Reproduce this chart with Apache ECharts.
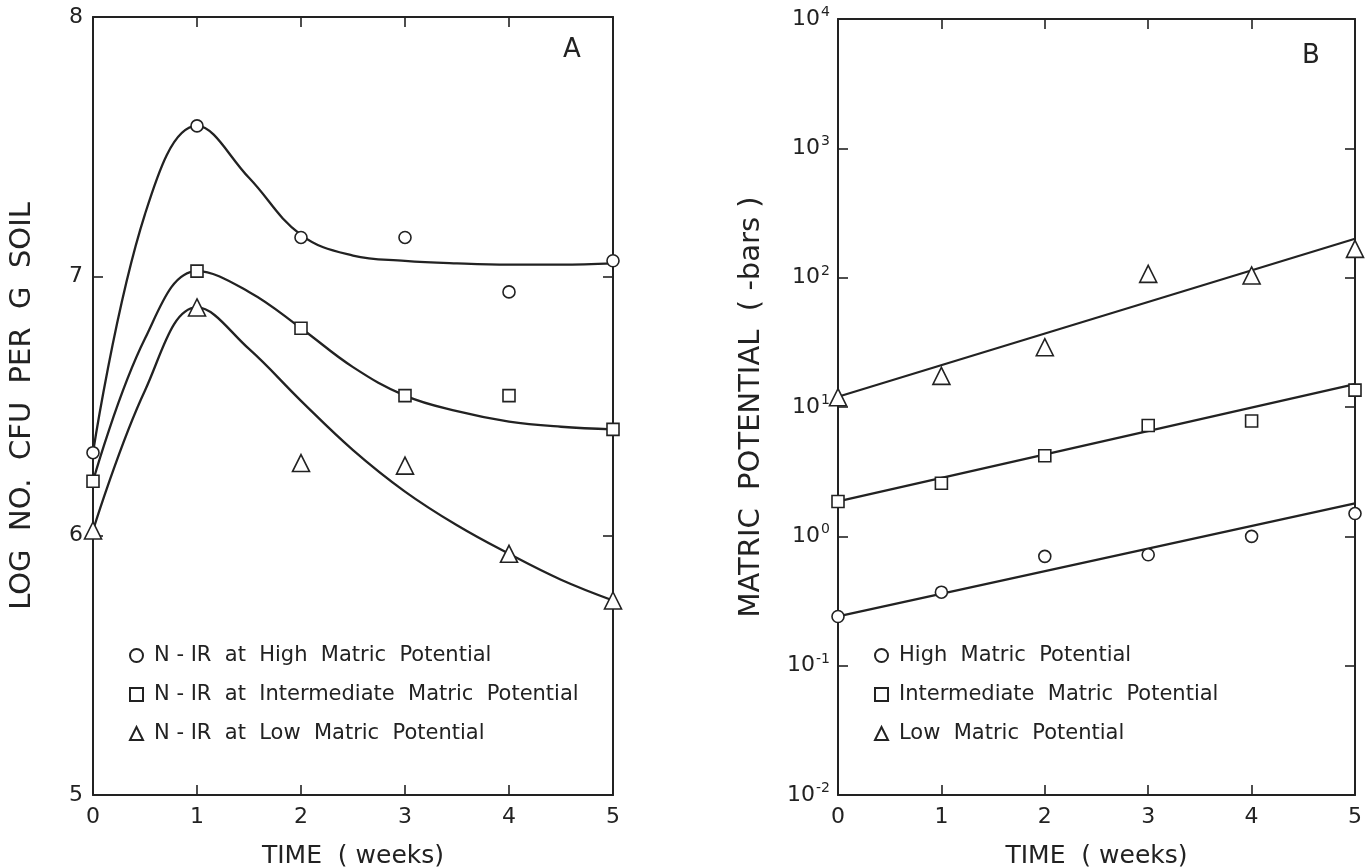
<!DOCTYPE html>
<html>
<head>
<meta charset="utf-8">
<style>
  html, body { margin: 0; padding: 0; background: #fff; }
  #container { width: 1368px; height: 867px; }
</style>
<script src="https://cdn.jsdelivr.net/npm/echarts@6/dist/echarts.min.js"></script>
</head>
<body>
<div id="container"></div>
<script>
// measured points, panel A (log CFU per g soil)
var weeks = [0, 1, 2, 3, 4, 5];
var cfuHigh = [6.32, 7.58, 7.15, 7.15, 6.94, 7.06];
var cfuMid = [6.21, 7.02, 6.80, 6.54, 6.54, 6.41];
var cfuLow = [6.02, 6.88, 6.28, 6.27, 5.93, 5.75];
// hand drawn curves of panel A, every half week
var curveX = [0, 0.5, 1, 1.5, 2, 2.5, 3, 3.5, 4, 4.5, 5];
var curveHigh = [6.32, 7.24, 7.58, 7.38, 7.16, 7.08, 7.06, 7.05, 7.045, 7.045, 7.05];
var curveMid = [6.21, 6.76, 7.02, 6.94, 6.80, 6.65, 6.54, 6.48, 6.44, 6.42, 6.41];
var curveLow = [6.02, 6.56, 6.88, 6.72, 6.52, 6.33, 6.17, 6.04, 5.93, 5.83, 5.75];

// panel B (matric potential, -bars)
var mpHigh = [0.24, 0.37, 0.70, 0.72, 1.0, 1.5];
var mpMid = [1.86, 2.57, 4.2, 7.2, 7.8, 13.5];
var mpLow = [11.9, 17.4, 29, 107, 104, 167];
var fitX = [0, 5];
var fitHigh = [0.24, 1.8];
var fitMid = [1.86, 15];
var fitLow = [12, 200];

var namesA = ['N - IR  at  High  Matric  Potential', 'N - IR  at  Intermediate  Matric  Potential', 'N - IR  at  Low  Matric  Potential'];
var namesB = ['High  Matric  Potential', 'Intermediate  Matric  Potential', 'Low  Matric  Potential'];

var dom = document.getElementById('container');
var myChart = echarts.init(dom, null, { renderer: 'canvas' });

var FONT = 'DejaVu Sans';
var INK = '#222';

function pairs(xs, ys) {
  return xs.map(function (x, i) { return [x, ys[i]]; });
}

function pointSeries(name, data, sym, size, xi) {
  return {
    name: name,
    type: 'scatter',
    xAxisIndex: xi, yAxisIndex: xi,
    symbol: sym,
    symbolSize: size,
    itemStyle: { color: '#fff', borderColor: INK, borderWidth: 1.6, opacity: 1 },
    z: 5,
    data: data
  };
}

function lineSeries(data, xi, smooth) {
  return {
    type: 'line',
    xAxisIndex: xi, yAxisIndex: xi,
    smooth: smooth,
    showSymbol: false,
    symbol: 'none',
    lineStyle: { color: INK, width: 2.3 },
    silent: true,
    z: 3,
    data: data
  };
}

var tickIn = { show: true, inside: true, length: 10, lineStyle: { color: INK, width: 1.6 } };
var lineBlk = { show: true, onZero: false, lineStyle: { color: INK, width: 2 } };
var lblStyle = { color: INK, fontFamily: FONT, fontSize: 22 };
var nameStyle = { color: INK, fontFamily: FONT, fontSize: 29 };

function supLabel(v) {
  var e = Math.round(Math.log10(v));
  return '{b|10}{s|' + e + '}';
}

var option = {
  animation: false,
  backgroundColor: '#fff',
  grid: [
    { left: 93, top: 17, width: 520, height: 778, outerBoundsMode: 'none', containLabel: false },
    { left: 838, top: 19, width: 517, height: 776, outerBoundsMode: 'none', containLabel: false }
  ],
  xAxis: [
    {
      gridIndex: 0, type: 'value', min: 0, max: 5, interval: 1,
      position: 'bottom',
      name: 'TIME  ( weeks)', nameLocation: 'middle', nameGap: 49,
      nameTextStyle: { color: INK, fontFamily: FONT, fontSize: 25 },
      axisLine: lineBlk, axisTick: tickIn, splitLine: { show: false },
      axisLabel: Object.assign({ margin: 11 }, lblStyle)
    },
    {
      gridIndex: 1, type: 'value', min: 0, max: 5, interval: 1,
      position: 'bottom',
      name: 'TIME  ( weeks)', nameLocation: 'middle', nameGap: 49,
      nameTextStyle: { color: INK, fontFamily: FONT, fontSize: 25 },
      axisLine: lineBlk, axisTick: tickIn, splitLine: { show: false },
      axisLabel: Object.assign({ margin: 11 }, lblStyle)
    },
    {
      gridIndex: 0, type: 'value', min: 0, max: 5, interval: 1, position: 'top',
      axisLine: lineBlk, axisTick: tickIn, axisLabel: { show: false }, splitLine: { show: false }
    },
    {
      gridIndex: 1, type: 'value', min: 0, max: 5, interval: 1, position: 'top',
      axisLine: lineBlk, axisTick: tickIn, axisLabel: { show: false }, splitLine: { show: false }
    }
  ],
  yAxis: [
    {
      gridIndex: 0, type: 'value', min: 5, max: 8, interval: 1,
      position: 'left',
      name: 'LOG  NO.  CFU  PER  G  SOIL', nameLocation: 'middle', nameGap: 56,
      nameTextStyle: nameStyle,
      axisLine: lineBlk, axisTick: tickIn, splitLine: { show: false },
      axisLabel: Object.assign({ margin: 10 }, lblStyle)
    },
    {
      gridIndex: 1, type: 'log', logBase: 10, min: 0.01, max: 10000,
      position: 'left',
      name: 'MATRIC  POTENTIAL  ( -bars )', nameLocation: 'middle', nameGap: 72,
      nameTextStyle: nameStyle,
      axisLine: lineBlk, axisTick: tickIn, splitLine: { show: false },
      minorTick: { show: false },
      axisLabel: {
        margin: 8,
        formatter: supLabel,
        rich: {
          b: { color: INK, fontFamily: FONT, fontSize: 22 },
          s: { color: INK, fontFamily: FONT, fontSize: 14, padding: [0, 0, 13, 1] }
        }
      }
    },
    {
      gridIndex: 0, type: 'value', min: 5, max: 8, interval: 1, position: 'right',
      axisLine: lineBlk, axisTick: tickIn, axisLabel: { show: false }, splitLine: { show: false }
    },
    {
      gridIndex: 1, type: 'log', logBase: 10, min: 0.01, max: 10000, position: 'right',
      axisLine: lineBlk, axisTick: tickIn, axisLabel: { show: false }, splitLine: { show: false }
    }
  ],
  legend: [
    {
      left: 124, top: 640, orient: 'vertical', itemGap: 18,
      itemWidth: 13, itemHeight: 13,
      textStyle: { color: INK, fontFamily: FONT, fontSize: 21, padding: [0, 0, 0, 6] },
      data: [
        { name: namesA[0], icon: 'circle' },
        { name: namesA[1], icon: 'rect' },
        { name: namesA[2], icon: 'triangle' }
      ]
    },
    {
      left: 869, top: 640, orient: 'vertical', itemGap: 18,
      itemWidth: 13, itemHeight: 13,
      textStyle: { color: INK, fontFamily: FONT, fontSize: 21, padding: [0, 0, 0, 6] },
      data: [
        { name: namesB[0], icon: 'circle' },
        { name: namesB[1], icon: 'rect' },
        { name: namesB[2], icon: 'triangle' }
      ]
    }
  ],
  graphic: [
    { type: 'text', left: 563, top: 37, style: { text: 'A', fill: INK, font: '26px "DejaVu Sans"' } },
    { type: 'text', left: 1302, top: 43, style: { text: 'B', fill: INK, font: '26px "DejaVu Sans"' } }
  ],
  series: [
    lineSeries(pairs(curveX, curveHigh), 0, 0.4),
    lineSeries(pairs(curveX, curveMid), 0, 0.4),
    lineSeries(pairs(curveX, curveLow), 0, 0.4),
    pointSeries(namesA[0], pairs(weeks, cfuHigh), 'circle', 12, 0),
    pointSeries(namesA[1], pairs(weeks, cfuMid), 'rect', 12, 0),
    pointSeries(namesA[2], pairs(weeks, cfuLow), 'triangle', 17, 0),

    lineSeries(pairs(fitX, fitHigh), 1, false),
    lineSeries(pairs(fitX, fitMid), 1, false),
    lineSeries(pairs(fitX, fitLow), 1, false),
    pointSeries(namesB[0], pairs(weeks, mpHigh), 'circle', 12, 1),
    pointSeries(namesB[1], pairs(weeks, mpMid), 'rect', 12, 1),
    pointSeries(namesB[2], pairs(weeks, mpLow), 'triangle', 17, 1)
  ]
};

myChart.setOption(option);

window.addEventListener('resize', function () {
  myChart.resize();
});
</script>
</body>
</html>
